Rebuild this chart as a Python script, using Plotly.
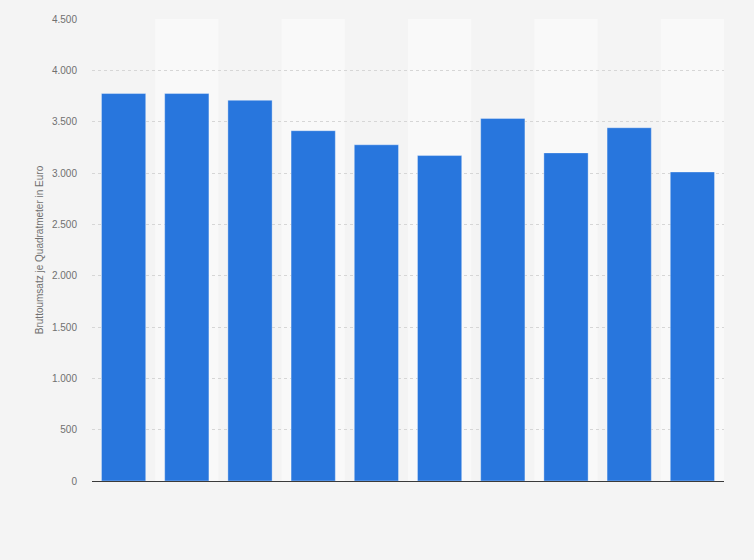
import plotly.graph_objects as go

# categories are not labelled in the picture
categories = ['1', '2', '3', '4', '5', '6', '7', '8', '9', '10']
umsatz = [3774, 3774, 3708, 3412, 3275, 3170, 3532, 3196, 3441, 3010]
y_ticks = [0, 500, 1000, 1500, 2000, 2500, 3000, 3500, 4000, 4500]

fig = go.Figure()
fig.add_trace(go.Bar(x=categories, y=umsatz, marker_color='#2876dd',
                     marker_line_color='rgba(255,255,255,0.35)', marker_line_width=1))

# lighter column bands behind every second category
for i in range(1, len(categories), 2):
    fig.add_shape(type='rect', xref='x', yref='paper', x0=i - 0.5, x1=i + 0.5, y0=0, y1=1,
                  fillcolor='#f9f9f9', line_width=0, layer='below')

fig.update_layout(
    width=754, height=560,
    margin=dict(l=92, r=30, t=19, b=79),
    paper_bgcolor='#f4f4f4', plot_bgcolor='#f4f4f4',
    separators=',.',
    bargap=0.3,
    showlegend=False,
    font=dict(family='Liberation Sans, Arial, sans-serif', size=10, color='#707070'),
)
fig.update_xaxes(showticklabels=False, showgrid=False, showline=True,
                 linecolor='#3a3a3a', linewidth=1.3, range=[-0.5, 9.5])
fig.update_yaxes(range=[0, 4500], tickvals=y_ticks, tickformat=',d',
                 showgrid=True, gridcolor='#d6d6d6', griddash='dot', zeroline=False,
                 ticks='outside', ticklen=12, tickcolor='rgba(0,0,0,0)',
                 title=dict(text='Bruttoumsatz je Quadratmeter in Euro', standoff=6,
                            font=dict(size=10, color='#707070')))

# drop the browser's default page margin so the chart fills the window
fig.write_html('out.html', config={'displayModeBar': False},
               post_script="document.body.style.margin='0';")
